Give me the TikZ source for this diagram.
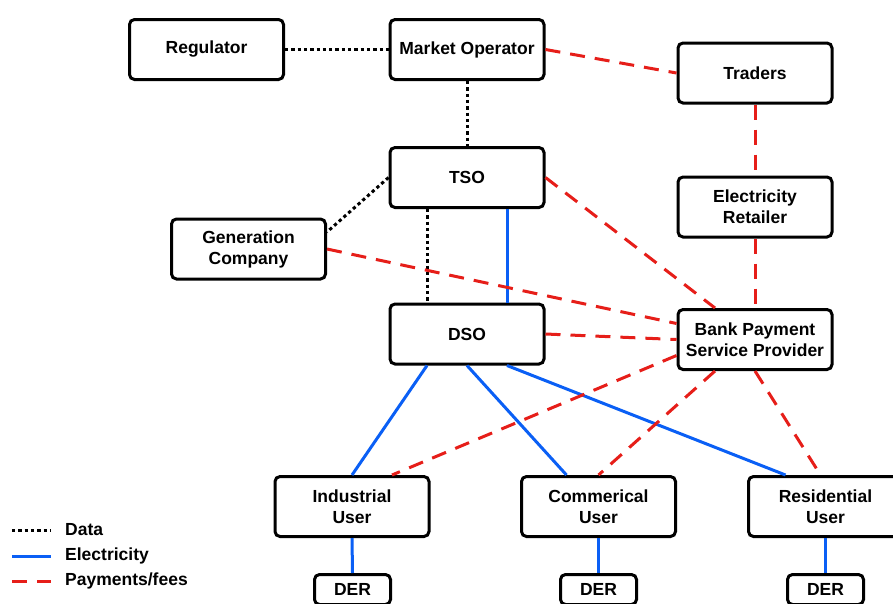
\documentclass[tikz,border=0pt]{standalone}
\usepackage{fontspec}
\setmainfont{Liberation Sans}
\usetikzlibrary{positioning}
\definecolor{elecblue}{RGB}{10,95,245}
\definecolor{payred}{RGB}{230,30,25}

\begin{document}
\begin{tikzpicture}[
	x=1pt, y=-1pt,
	box/.style = {draw, line width=3pt, rounded corners=5pt, minimum width=154pt,
	              minimum height=60pt, align=center, inner sep=2pt,
	              font=\fontsize{17.5}{21}\selectfont\bfseries},
	derbox/.style = {box, minimum width=76pt, minimum height=30pt},
	lgd/.style = {anchor=west, inner sep=0pt, font=\fontsize{17.5}{21}\selectfont\bfseries},
	data/.style = {line width=3pt, dash pattern=on 3.3pt off 3pt},
	elec/.style = {line width=3pt, draw=elecblue},
	pay/.style = {line width=3pt, draw=payred, dash pattern=on 15pt off 10pt}
     ]
		\clip (0,0) rectangle (893,603);
%
		\node (reg)  [box] at (206.5,49.5) {Regulator};
		\node (mo)   [box] at (467,49.5)   {Market Operator};
		\node (trd)  [box] at (755,73)     {Traders};
		\node (tso)  [box] at (467,177.5)  {TSO};
		\node (ret)  [box] at (755,207)    {Electricity\\Retailer};
		\node (gen)  [box] at (248.5,249)  {Generation\\Company};
		\node (dso)  [box] at (467,334)    {DSO};
		\node (bank) [box] at (755,339.5)  {Bank Payment\\Service Provider};
		\node (ind)  [box] at (352,506.5)  {Industrial\\User};
		\node (com)  [box] at (598.5,506.5) {Commerical\\User};
		\node (res)  [box] at (825.5,506.5) {Residential\\User};
		\node (der1) [derbox] at (352.5,589.5) {DER};
		\node (der2) [derbox] at (598.5,589.5) {DER};
		\node (der3) [derbox] at (825.5,589.5) {DER};
%
		\draw[data] (reg.east) -- (mo.west);
		\draw[data] (mo.south) -- (tso.north);
		\draw[data] (tso.west) -- ([yshift=17pt]gen.east);
		\draw[data] ([xshift=-40pt]tso.south) -- ([xshift=-40pt]dso.north);
%
		\draw[elec] ([xshift=40pt]tso.south) -- ([xshift=40pt]dso.north);
		\draw[elec] ([xshift=-40pt]dso.south) -- (ind.north);
		\draw[elec] (dso.south) -- ([xshift=-32pt]com.north);
		\draw[elec] ([xshift=40pt]dso.south) -- ([xshift=-40pt]res.north);
		\draw[elec] (ind.south) -- (der1.north);
		\draw[elec] (com.south) -- (der2.north);
		\draw[elec] (res.south) -- (der3.north);
%
		\draw[pay] (mo.east) -- (trd.west);
		\draw[pay] (trd.south) -- (ret.north);
		\draw[pay] (ret.south) -- (bank.north);
		\draw[pay] (tso.east) -- ([xshift=-40pt]bank.north);
		\draw[pay] (gen.east) -- ([yshift=16pt]bank.west);
		\draw[pay] (dso.east) -- (bank.west);
		\draw[pay] ([yshift=-16pt]bank.west) -- ([xshift=40pt]ind.north);
		\draw[pay] ([xshift=-40pt]bank.south) -- (com.north);
		\draw[pay] (bank.south) -- ([xshift=-5pt]res.north);
%
		\node (lgdata) [lgd] at (65,530) {Data};
		\node (lgelec) [lgd] at (65,556) {Electricity};
		\node (lgpay)  [lgd] at (65,581) {Payments/fees};
		\draw[data] ([xshift=-53pt]lgdata.west) -- ([xshift=-14pt]lgdata.west);
		\draw[elec] ([xshift=-53pt]lgelec.west) -- ([xshift=-14pt]lgelec.west);
		\draw[pay]  ([xshift=-53pt]lgpay.west) -- ([xshift=-14pt]lgpay.west);
\end{tikzpicture}
\end{document}
